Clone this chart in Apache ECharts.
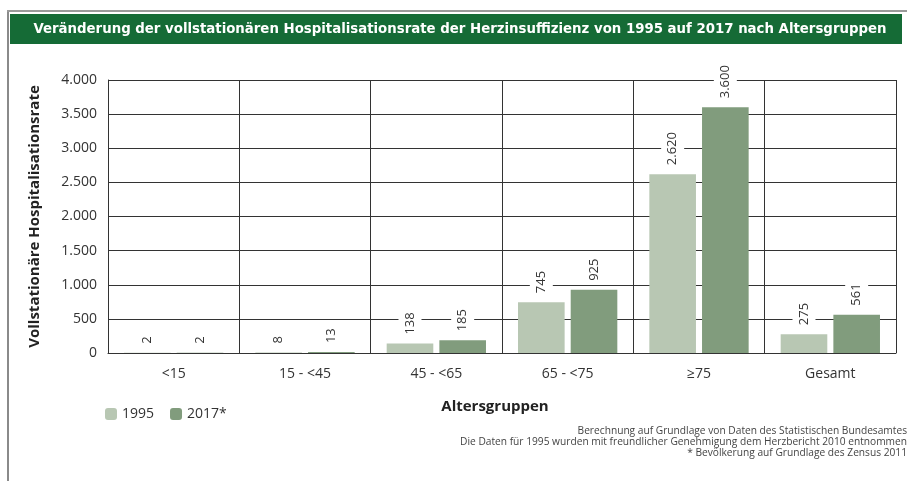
<!DOCTYPE html>
<html>
<head>
<meta charset="utf-8">
<script src="https://cdn.jsdelivr.net/npm/echarts@6/dist/echarts.min.js"></script>
<style>
  html, body { margin: 0; padding: 0; background: #fff; }
  #chart { width: 911px; height: 481px; }
</style>
</head>
<body>
<div id="chart"></div>
<script>
// Altersgruppen und Raten (je 100.000 Einwohner)
var categories = ['<15', '15 - <45', '45 - <65', '65 - <75', '\u226575', 'Gesamt'];
var values1995 = [2, 8, 138, 745, 2620, 275];
var values2017 = [2, 13, 185, 925, 3600, 561];
var seriesNames = ['1995', '2017*'];
var footnotes = [
    'Berechnung auf Grundlage von Daten des Statistischen Bundesamtes',
    'Die Daten f\u00fcr 1995 wurden mit freundlicher Genehmigung dem Herzbericht 2010 entnommen',
    '* Bev\u00f6lkerung auf Grundlage des Zensus 2011'
];

var FONT = '"Open Sans", "Noto Sans", sans-serif';
var COL_1995 = '#b8c7b3';
var COL_2017 = '#819c7d';

// Zahlen mit deutschem Tausenderpunkt
function fmt(v) {
    return String(v).replace(/\B(?=(\d{3})+(?!\d))/g, '.');
}

var chart = echarts.init(document.getElementById('chart'));

function barLabel() {
    return {
        show: true,
        position: 'top',
        rotate: 90,
        align: 'left',
        verticalAlign: 'middle',
        distance: 6,
        color: '#333',
        fontFamily: FONT,
        fontSize: 13,
        backgroundColor: '#fff',
        padding: [5, 3],
        formatter: function (p) { return fmt(p.value); }
    };
}

var footTexts = footnotes.map(function (t, i) {
    return {
        type: 'text', x: 907, y: 426 + i * 11,
        style: { text: t, textAlign: 'right', fill: '#444', font: '10.2px ' + FONT }
    };
});

var option = {
    backgroundColor: '#fff',
    animation: false,
    grid: { left: 108, right: 15, top: 80, bottom: 128, containLabel: false },
    legend: {
        data: seriesNames,
        left: 100,
        top: 402,
        itemWidth: 12,
        itemHeight: 12,
        itemGap: 16,
        textStyle: { fontFamily: FONT, fontSize: 14, color: '#333' }
    },
    xAxis: {
        type: 'category',
        data: categories,
        name: 'Altersgruppen',
        nameLocation: 'middle',
        nameGap: 46,
        nameTextStyle: { fontFamily: FONT, fontSize: 15, fontWeight: 'bold', color: '#222', padding: [0, 14, 0, 0] },
        axisLine: { lineStyle: { color: '#333', width: 1 } },
        axisTick: { show: false },
        axisLabel: { margin: 14, fontFamily: FONT, fontSize: 14, color: '#333' },
        splitLine: { show: true, interval: 0, lineStyle: { color: '#333', width: 1 } }
    },
    yAxis: {
        type: 'value',
        min: 0,
        max: 4000,
        interval: 500,
        name: 'Vollstation\u00e4re Hospitalisationsrate',
        nameLocation: 'middle',
        nameGap: 66,
        nameTextStyle: { fontFamily: FONT, fontSize: 15, fontWeight: 'bold', color: '#222' },
        axisLine: { show: true, lineStyle: { color: '#333', width: 1 } },
        axisTick: { show: false },
        axisLabel: { margin: 11, fontFamily: FONT, fontSize: 14, color: '#333', formatter: fmt },
        splitLine: { show: true, lineStyle: { color: '#333', width: 1 } }
    },
    series: [
        {
            name: seriesNames[0],
            type: 'bar',
            data: values1995,
            barWidth: '35.5%',
            barGap: '13%',
            itemStyle: { color: COL_1995 },
            label: barLabel(),
            z: 3
        },
        {
            name: seriesNames[1],
            type: 'bar',
            data: values2017,
            barWidth: '35.5%',
            barGap: '13%',
            itemStyle: { color: COL_2017 },
            label: barLabel(),
            z: 3
        }
    ],
    graphic: [
        // Rahmen
        { type: 'rect', shape: { x: 7, y: 10, width: 2, height: 471 }, style: { fill: '#8a8a8a' }, silent: true },
        { type: 'rect', shape: { x: 7, y: 10, width: 900, height: 2 }, style: { fill: '#9a9a9a' }, silent: true },
        // Titelbalken
        { type: 'rect', shape: { x: 10, y: 14, width: 892, height: 30 }, style: { fill: '#156b36' }, silent: true },
        {
            type: 'text', x: 460, y: 29,
            style: {
                text: 'Ver\u00e4nderung der vollstation\u00e4ren Hospitalisationsrate der Herzinsuffizienz von 1995 auf 2017 nach Altersgruppen',
                textAlign: 'center', textVerticalAlign: 'middle',
                fill: '#fff', font: 'bold 14.8px "DejaVu Sans Condensed", "Liberation Sans Narrow", sans-serif'
            }
        }
    ].concat(footTexts)
};

chart.setOption(option);
</script>
</body>
</html>
